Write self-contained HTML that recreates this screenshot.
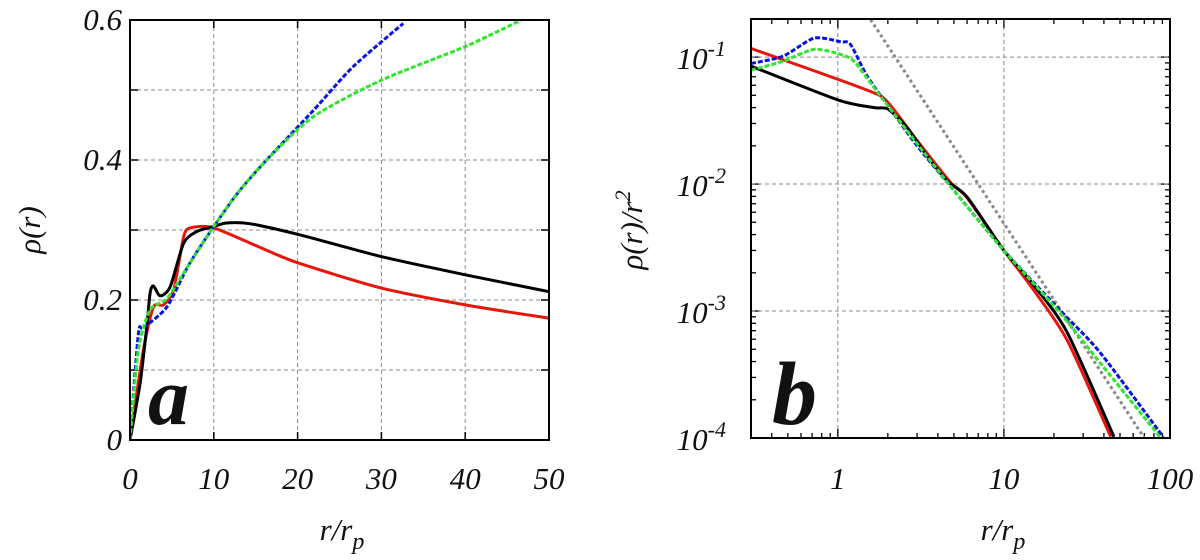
<!DOCTYPE html>
<html><head><meta charset="utf-8"><style>
body{margin:0;background:#fff}
svg{display:block}
svg text{font-family:"Liberation Serif","Times New Roman",serif !important;font-style:italic;fill:#111}
</style></head><body>
<svg id="fig" width="1200" height="560" viewBox="0 0 1200 560" font-family="Liberation Serif, serif">
<g id="pa"></g>
<g id="pb"></g>
</svg>
<script>
// Panel a data (r/rp, rho)
const aBlackX=[0,1.2,2,2.4,2.8,3.6,4.8,6.4,8,10,11.5,14.3,20.3,30,40,50];
const aBlackY=[0,0.081,0.162,0.21,0.22,0.206,0.219,0.281,0.298,0.305,0.31,0.309,0.293,0.262,0.236,0.212];
const aRedX=[0,1.6,2.8,4,5.2,6.4,7.2,10,16.3,20.3,30,40,50];
const aRedY=[0,0.129,0.19,0.193,0.214,0.29,0.303,0.303,0.271,0.252,0.217,0.193,0.174];
const aBlueX=[0,1,1.6,4.4,7,10,13,16.3,21.9,26.6,32.6];
const aBlueY=[0,0.152,0.16,0.19,0.25,0.305,0.355,0.4,0.471,0.533,0.595];
const aGreenX=[0,1,2.4,4.4,7,10,13,16.3,21.9,30,40,46.7];
const aGreenY=[0,0.129,0.186,0.202,0.25,0.305,0.355,0.4,0.462,0.514,0.562,0.6];
const aXTicks=[0,10,20,30,40,50];
const aYTicks=["0","0.2","0.4","0.6"];
// Panel b data (r/rp, rho/r^2)
const bRedX=[0.3,1.5,2.0,3.0,4.8,6.0,10,15,24,44];
const bRedY=[0.117,0.055,0.044,0.022,0.0102,0.0078,0.0030,0.00148,0.00059,0.000102];
const bBlackX=[0.3,1,1.65,2.0,2.6,3.45,4.6,6.0,10,15,24,46];
const bBlackY=[0.085,0.046,0.040,0.039,0.028,0.0166,0.0105,0.0079,0.0030,0.00162,0.00068,0.000102];
const bBlueX=[0.3,0.47,0.72,1.04,1.19,1.5,2.07,3.0,4.8,10,22,38,91];
const bBlueY=[0.089,0.102,0.141,0.132,0.126,0.071,0.039,0.020,0.0095,0.0030,0.0010,0.00047,0.000102];
const bGreenX=[0.3,0.47,0.72,1.04,1.25,1.57,2.07,4.8,10,22,38,87];
const bGreenY=[0.079,0.093,0.115,0.105,0.093,0.063,0.039,0.0095,0.0030,0.00095,0.00039,0.000102];
const bRefAmp=[0.49];
const bRefExp=[-2];
const bXTicks=["1","10","100"];
const bYTicks=["-1","-2","-3","-4"];

const NS="http://www.w3.org/2000/svg";
function mk(p,tag,at){const e=document.createElementNS(NS,tag);for(const k in at)e.setAttribute(k,at[k]);
  if(tag==='text'){e.setAttribute('font-family','Liberation Serif, Times New Roman, serif');e.setAttribute('font-style','italic');}
  p.appendChild(e);return e;}
function smooth(pts){
  if(pts.length<2)return"";
  let d="M"+pts[0][0].toFixed(1)+","+pts[0][1].toFixed(1);
  for(let i=0;i<pts.length-1;i++){
    const p0=pts[Math.max(0,i-1)],p1=pts[i],p2=pts[i+1],p3=pts[Math.min(pts.length-1,i+2)];
    const c1=[p1[0]+(p2[0]-p0[0])/8,p1[1]+(p2[1]-p0[1])/8];
    const c2=[p2[0]-(p3[0]-p1[0])/8,p2[1]-(p3[1]-p1[1])/8];
    d+="C"+c1[0].toFixed(1)+","+c1[1].toFixed(1)+" "+c2[0].toFixed(1)+","+c2[1].toFixed(1)+" "+p2[0].toFixed(1)+","+p2[1].toFixed(1);
  }
  return d;
}
// ---------- Panel A ----------
const pa=document.getElementById('pa');
const AL=130,AR=549,AT=20,AB=440;
const ax=v=>AL+(v/50)*(AR-AL);
const ay=v=>AB-(v/0.6)*(AB-AT);
const ca=mk(pa,'clipPath',{id:'clipa'});mk(ca,'rect',{x:AL,y:AT,width:AR-AL,height:AB-AT});
for(const t of aXTicks){
  if(t>0&&t<50){const g=mk(pa,'line',{x1:ax(t),x2:ax(t),y1:AT,y2:AB,stroke:'#888','stroke-width':1,'stroke-dasharray':'4,3'});
  }
  mk(pa,'line',{x1:ax(t),x2:ax(t),y1:AB,y2:AB-8,stroke:'#000','stroke-width':1.5});
  mk(pa,'line',{x1:ax(t),x2:ax(t),y1:AT,y2:AT+8,stroke:'#000','stroke-width':1.5});
  const tx=mk(pa,'text',{x:ax(t),y:489,'font-size':31,'text-anchor':'middle'});tx.textContent=t;
  
}
for(let i=1;i<6;i++){const v=i*0.1;
  const g=mk(pa,'line',{x1:AL,x2:AR,y1:ay(v),y2:ay(v),stroke:'#888','stroke-width':1,'stroke-dasharray':'4,3'});
  
  mk(pa,'line',{x1:AL,x2:AL+8,y1:ay(v),y2:ay(v),stroke:'#000','stroke-width':1.5});
  mk(pa,'line',{x1:AR,x2:AR-8,y1:ay(v),y2:ay(v),stroke:'#000','stroke-width':1.5});
}
aYTicks.forEach(s=>{const tx=mk(pa,'text',{x:122,y:ay(parseFloat(s))+10,'font-size':31,'text-anchor':'end'});tx.textContent=s;
  });
function aSeries(X,Y,col,dash,name){
  const p=mk(pa,'path',{d:smooth(X.map((x,i)=>[ax(x),ay(Y[i])])),fill:'none',stroke:col,'stroke-width':3,'clip-path':'url(#clipa)'});
  if(dash)p.setAttribute('stroke-dasharray',dash);
  
}
aSeries(aRedX,aRedY,'#e8150c',null,'a-red-line');
aSeries(aBlackX,aBlackY,'#000',null,'a-black-line');
aSeries(aBlueX,aBlueY,'#0a14e0','5,2','a-blue-line');
aSeries(aGreenX,aGreenY,'#2ee62e','5,2','a-green-line');
mk(pa,'rect',{x:AL,y:AT,width:AR-AL,height:AB-AT,fill:'none',stroke:'#000','stroke-width':2});
let t=mk(pa,'text',{x:148,y:424,'font-size':82,'font-weight':'bold'});t.textContent='a';

t=mk(pa,'text',{x:342,y:540,'font-size':31,'text-anchor':'middle'});t.innerHTML='r/r<tspan dy="9" font-size="24">p</tspan>';

t=mk(pa,'text',{x:0,y:0,'font-size':31,'text-anchor':'middle',transform:'translate(40,230) rotate(-90)'});t.textContent='ρ(r)';


// ---------- Panel B ----------
const pb=document.getElementById('pb');
const BL=751,BR=1170,BT=19,BB=438;
const lx0=Math.log10(0.3),lx1=2,ly0=-4,ly1=-0.7;
const bx=v=>BL+(Math.log10(v)-lx0)/(lx1-lx0)*(BR-BL);
const by=v=>BB-(Math.log10(v)-ly0)/(ly1-ly0)*(BB-BT);
const cb=mk(pb,'clipPath',{id:'clipb'});mk(cb,'rect',{x:BL,y:BT,width:BR-BL,height:BB-BT});
bXTicks.forEach(s=>{const v=parseFloat(s);
  if(v<100){const g=mk(pb,'line',{x1:bx(v),x2:bx(v),y1:BT,y2:BB,stroke:'#888','stroke-width':1,'stroke-dasharray':'4,3'});
  }
  const tx=mk(pb,'text',{x:bx(v),y:489,'font-size':31,'text-anchor':'middle'});tx.textContent=s;
  });
for(let d=-1;d<=1;d++)for(let m=1;m<=9;m++){const v=m*Math.pow(10,d);if(v<0.3||v>100)continue;
  const L=m==1?9:5;
  mk(pb,'line',{x1:bx(v),x2:bx(v),y1:BB,y2:BB-L,stroke:'#000','stroke-width':1.3});
  mk(pb,'line',{x1:bx(v),x2:bx(v),y1:BT,y2:BT+L,stroke:'#000','stroke-width':1.3});}
for(let d=-4;d<=-1;d++)for(let m=1;m<=9;m++){const v=m*Math.pow(10,d);if(by(v)<BT)continue;
  const L=m==1?9:5;
  mk(pb,'line',{x1:BL,x2:BL+L,y1:by(v),y2:by(v),stroke:'#000','stroke-width':1.3});
  mk(pb,'line',{x1:BR,x2:BR-L,y1:by(v),y2:by(v),stroke:'#000','stroke-width':1.3});}
bYTicks.forEach(s=>{const v=Math.pow(10,parseFloat(s));
  if(parseFloat(s)>-4){const g=mk(pb,'line',{x1:BL,x2:BR,y1:by(v),y2:by(v),stroke:'#888','stroke-width':1,'stroke-dasharray':'4,3'});
  }
  const tx=mk(pb,'text',{x:726,y:by(v)+12,'font-size':31,'text-anchor':'end'});
  tx.innerHTML='10<tspan dy="-13" font-size="22">'+s+'</tspan>';
  });
const refX=[1,100];
let rp=mk(pb,'path',{d:smooth(refX.map(x=>[bx(x),by(bRefAmp[0]*Math.pow(x,bRefExp[0]))])),fill:'none',stroke:'#888','stroke-width':3,'stroke-dasharray':'3,3','clip-path':'url(#clipb)'});

function bSeries(X,Y,col,dash,name){
  const p=mk(pb,'path',{d:smooth(X.map((x,i)=>[bx(x),by(Y[i])])),fill:'none',stroke:col,'stroke-width':3,'clip-path':'url(#clipb)'});
  if(dash)p.setAttribute('stroke-dasharray',dash);
  
}
bSeries(bRedX,bRedY,'#e8150c',null,'b-red-line');
bSeries(bBlackX,bBlackY,'#000',null,'b-black-line');
bSeries(bBlueX,bBlueY,'#0a14e0','5,2','b-blue-line');
bSeries(bGreenX,bGreenY,'#2ee62e','5,2','b-green-line');
mk(pb,'rect',{x:BL,y:BT,width:BR-BL,height:BB-BT,fill:'none',stroke:'#000','stroke-width':2});
t=mk(pb,'text',{x:772,y:424,'font-size':90,'font-weight':'bold'});t.textContent='b';

t=mk(pb,'text',{x:1003,y:540,'font-size':31,'text-anchor':'middle'});t.innerHTML='r/r<tspan dy="9" font-size="24">p</tspan>';

t=mk(pb,'text',{x:0,y:0,'font-size':31,'text-anchor':'middle',transform:'translate(642,230) rotate(-90)'});t.innerHTML='ρ(r)/r<tspan dy="-12" font-size="22">2</tspan>';

</script>
</body></html>
